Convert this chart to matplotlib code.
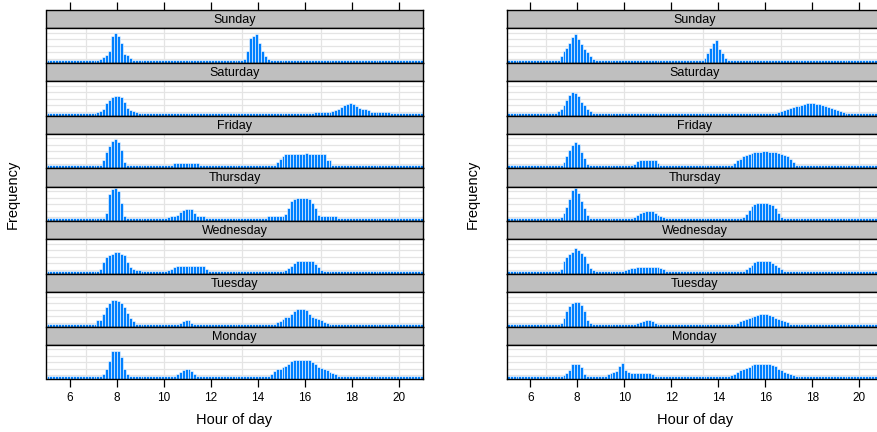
import numpy as np
import matplotlib
matplotlib.use('Agg')
import matplotlib.pyplot as plt

plt.rcParams['font.family'] = ['Liberation Sans', 'DejaVu Sans']

# ---------------- data ----------------
X_MIN, X_MAX, BIN = 5.0, 21.0, 0.125
BASE = 3.0
days = ['Sunday', 'Saturday', 'Friday', 'Thursday', 'Wednesday', 'Tuesday', 'Monday']
x_ticks = [6, 8, 10, 12, 14, 16, 18, 20]
v_grid = [20 / 3, 10, 40 / 3, 50 / 3, 20]
h_grid = [4, 10.5, 17, 23.5, 30]
Y_MAX = 34.5

# left panel: (segment start hour, bin values)
sun_L = [(7.25, [4, 6, 8, 12, 27, 30, 27, 20, 9, 8, 5]),
         (13.375, [4, 12, 25, 27, 29, 20, 12, 7, 4])]
sat_L = [(7.125, [4, 5, 7, 13, 16, 19, 20, 20, 19, 14, 8, 6, 5, 4, 3]),
         (16.375, [4, 4, 4, 4, 4, 4, 5, 6, 7, 9, 11, 12, 13, 12, 10, 8, 7, 7, 6, 4, 4, 4, 4, 4, 4, 4])]
fri_L = [(7.375, [8, 16, 22, 27, 29, 26, 18, 6]),
         (10.375, [5, 5, 5, 5, 5, 5, 5, 5, 5]),
         (14.625, [3, 6, 9, 12, 14, 14, 14, 14, 14, 14, 14, 15, 14, 14, 14, 14, 14, 14, 8, 8])]
thu_L = [(7.375, [3, 8, 27, 32, 33, 30, 18, 5]),
         (10.125, [4, 5, 5, 6, 9, 11, 12, 12, 12, 8, 5, 5, 5, 3]),
         (14.375, [5, 5, 5, 5, 5, 5, 7, 13, 20, 22, 23, 23, 23, 23, 22, 18, 13, 6, 5, 5, 5, 5, 5, 5])]
wed_L = [(7.125, [3, 5, 12, 17, 19, 20, 22, 22, 20, 19, 12, 7, 5, 4, 4]),
         (10.125, [4, 5, 7, 8, 8, 8, 8, 8, 8, 8, 8, 8, 8, 5, 3]),
         (15.0, [3, 4, 6, 8, 11, 13, 13, 13, 13, 13, 13, 10, 7, 4, 3])]
tue_L = [(7.125, [7, 7, 13, 20, 24, 27, 27, 26, 24, 20, 14, 9, 6, 3]),
         (10.375, [3, 3, 4, 6, 7, 7, 4, 3]),
         (14.625, [3, 5, 6, 8, 10, 10, 13, 16, 18, 18, 18, 17, 13, 10, 9, 8, 7, 5, 4, 3, 3])]
mon_L = [(7.25, [3, 5, 10, 18, 28, 28, 28, 22, 10, 5]),
         (10.375, [3, 5, 7, 9, 10, 10, 8, 5, 3]),
         (14.375, [3, 5, 8, 10, 10, 12, 13, 15, 18, 19, 19, 19, 19, 19, 19, 17, 15, 12, 11, 10, 9, 7, 6, 5, 3])]

# right panel
sun_R = [(7.125, [3, 7, 12, 15, 20, 26, 29, 24, 19, 14, 11, 7, 4]),
         (13.375, [5, 10, 15, 20, 23, 14, 10, 5, 3])]
sat_R = [(7.125, [5, 7, 11, 16, 21, 24, 23, 20, 14, 11, 7, 5, 3]),
         (16.375, [3, 4, 5, 6, 7, 8, 9, 10, 10, 11, 12, 13, 13, 13, 12, 12, 11, 10, 9, 8, 7, 6, 5, 4, 3, 3])]
fri_R = [(7.375, [6, 12, 18, 23, 26, 24, 16, 10, 4]),
         (10.375, [4, 7, 8, 8, 8, 8, 8, 8, 5, 3]),
         (14.625, [5, 8, 9, 12, 13, 14, 15, 16, 16, 16, 17, 17, 16, 16, 16, 15, 14, 13, 12, 9, 6, 3])]
thu_R = [(7.125, [3, 4, 8, 14, 22, 31, 33, 28, 20, 13, 6, 3]),
         (10.25, [3, 4, 6, 8, 9, 10, 10, 10, 8, 6, 5, 4, 3]),
         (14.375, [3, 3, 3, 3, 3, 4, 7, 11, 15, 17, 18, 18, 18, 18, 17, 16, 13, 8, 4, 3, 3, 3, 3, 3, 3])]
wed_R = [(7.125, [3, 5, 13, 17, 20, 22, 26, 24, 21, 18, 11, 6, 4, 3]),
         (9.875, [3, 4, 5, 6, 6, 7, 7, 7, 7, 7, 7, 7, 7, 6, 5, 3]),
         (15.0, [3, 5, 7, 9, 12, 13, 13, 13, 13, 13, 11, 9, 7, 5, 3])]
tue_R = [(7.125, [3, 4, 9, 16, 21, 24, 25, 25, 22, 16, 7, 4, 3]),
         (10.25, [3, 3, 4, 5, 6, 7, 7, 6, 4, 3]),
         (14.625, [3, 4, 6, 7, 8, 9, 10, 11, 12, 13, 13, 13, 12, 11, 9, 8, 7, 6, 5, 3])]
mon_R = [(7.375, [4, 6, 9, 15, 15, 15, 12, 5, 3]),
         (9.125, [3, 5, 6, 7, 8, 13, 16, 9, 7, 6, 6, 6, 6, 6, 6, 6, 5, 3]),
         (14.375, [3, 4, 5, 7, 9, 10, 11, 12, 14, 15, 15, 15, 15, 15, 15, 14, 13, 10, 9, 7, 6, 5, 4, 3])]

left_panel = [sun_L, sat_L, fri_L, thu_L, wed_L, tue_L, mon_L]
right_panel = [sun_R, sat_R, fri_R, thu_R, wed_R, tue_R, mon_R]


def build(segments):
    n = int(round((X_MAX - X_MIN) / BIN))
    vals = np.full(n, BASE)
    for start, seg in segments:
        i0 = int(round((start - X_MIN) / BIN))
        vals[i0:i0 + len(seg)] = seg
    return vals


centers = X_MIN + BIN / 2 + BIN * np.arange(int(round((X_MAX - X_MIN) / BIN)))

# ---------------- layout ----------------
W, H = 878, 432
fig = plt.figure(figsize=(W / 100, H / 100), dpi=100)

BAR = '#0080ff'
STRIP = '#bfbfbf'
GRID = '#e4e4e4'
TOP = 10.0
ROW = 52.76
STRIP_H = 18.3
PLOT_H = ROW - STRIP_H
PANEL_W = 376.0


def px_axes(x, y, w, h):
    return fig.add_axes([x / W, 1 - (y + h) / H, w / W, h / H])


for x0, panel in [(46.5, left_panel), (506.7, right_panel)]:
    for i, (day, segs) in enumerate(zip(days, panel)):
        ys = TOP + i * ROW
        # strip
        sax = px_axes(x0, ys, PANEL_W, STRIP_H)
        sax.set_facecolor(STRIP)
        sax.set_xlim(X_MIN, X_MAX)
        sax.set_ylim(0, 1)
        sax.set_yticks([])
        sax.text(0.5, 0.45, day, transform=sax.transAxes, ha='center', va='center',
                 fontsize=9)
        for s in sax.spines.values():
            s.set_linewidth(1.0)
            s.set_color('black')
        if i == 0:
            sax.xaxis.set_ticks_position('top')
            sax.set_xticks(x_ticks)
            sax.tick_params(axis='x', direction='out', length=6, width=0.9,
                            labeltop=False, labelbottom=False)
        else:
            sax.set_xticks([])
        # plot
        ax = px_axes(x0, ys + STRIP_H, PANEL_W, PLOT_H)
        ax.set_xlim(X_MIN, X_MAX)
        ax.set_ylim(0, Y_MAX)
        for g in v_grid:
            ax.axvline(g, color=GRID, lw=0.9, zorder=0)
        for g in h_grid:
            ax.axhline(g, color=GRID, lw=0.9, zorder=0)
        ax.bar(centers, build(segs), width=BIN, color=BAR, edgecolor='white',
               linewidth=0.4, zorder=2)
        ax.set_yticks([])
        for s in ax.spines.values():
            s.set_linewidth(1.0)
            s.set_color('black')
            s.set_zorder(5)
        if i == len(days) - 1:
            ax.set_xticks(x_ticks)
            ax.set_xticklabels([str(t) for t in x_ticks])
            ax.tick_params(axis='x', direction='out', length=6, width=0.9,
                           labelsize=8.5, pad=3)
        else:
            ax.set_xticks([])

    cx = x0 + PANEL_W / 2
    fig.text(cx / W, 1 - 420 / H, 'Hour of day', ha='center', va='center', fontsize=10.5)
    fig.text((x0 - 34) / W, 1 - (TOP + 7 * ROW / 2) / H, 'Frequency', rotation=90,
             ha='center', va='center', fontsize=10.5)

fig.savefig('out.png', dpi=100)
